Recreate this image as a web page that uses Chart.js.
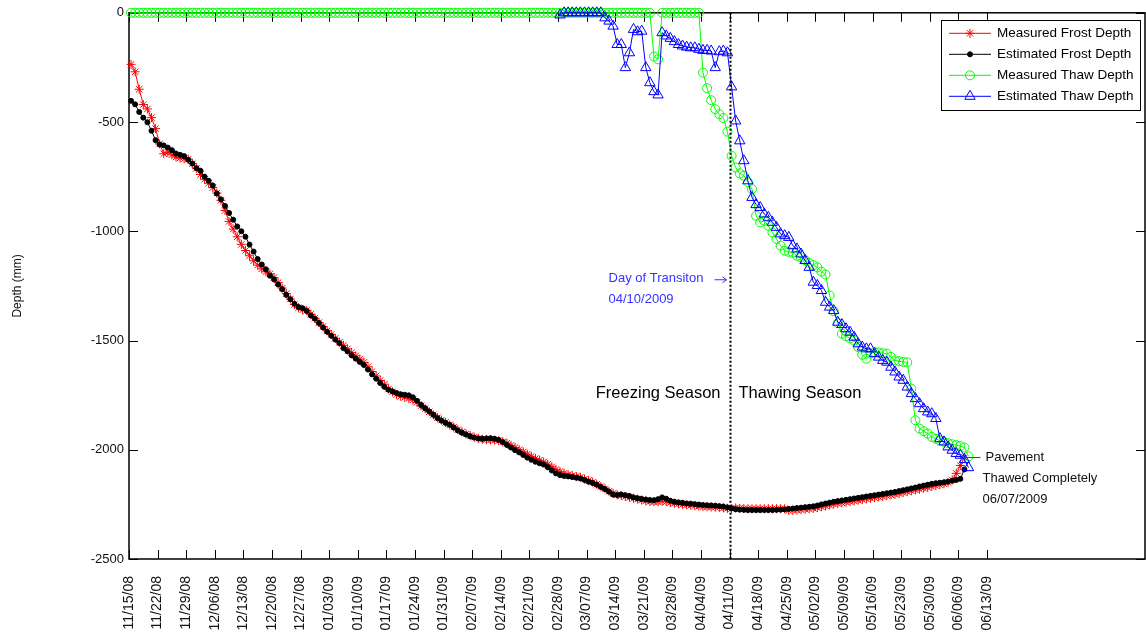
<!DOCTYPE html>
<html>
<head>
<meta charset="utf-8">
<title>Frost and Thaw Depth</title>
<script src="https://cdn.jsdelivr.net/npm/chart.js@4/dist/chart.umd.min.js"></script>
<style>
  html, body { margin: 0; padding: 0; background: #fff; }
  #wrap { width: 1146px; height: 638px; }
</style>
</head>
<body>
<div id="wrap"><canvas id="depthChart" width="1146" height="638"></canvas></div>
<script>
// x values are days counted from 11/15/08, one reading per day
const weekLabels = [
  '11/15/08', '11/22/08', '11/29/08', '12/06/08', '12/13/08', '12/20/08', '12/27/08',
  '01/03/09', '01/10/09', '01/17/09', '01/24/09', '01/31/09', '02/07/09', '02/14/09',
  '02/21/09', '02/28/09', '03/07/09', '03/14/09', '03/21/09', '03/28/09', '04/04/09',
  '04/11/09', '04/18/09', '04/25/09', '05/02/09', '05/09/09', '05/16/09', '05/23/09',
  '05/30/09', '06/06/09', '06/13/09'
];
const depthTicks = [-2500, -2000, -1500, -1000, -500, 0];

const frostStart = 0.5;
const frostMeasured = [
  -236, -270, -350, -420, -440, -480, -530, -600, -645, -638,
  -650, -660, -665, -668, -670, -690, -712, -740, -762, -780,
  -800, -825, -858, -905, -955, -990, -1025, -1060, -1088, -1112,
  -1135, -1155, -1172, -1185, -1195, -1212, -1235, -1260, -1285, -1310,
  -1335, -1350, -1360,
  -1362, -1380, -1398, -1418, -1436, -1455, -1472, -1490, -1508,
  -1522, -1538, -1555, -1570, -1585, -1600, -1620, -1642, -1662, -1683, -1700,
  -1722, -1735, -1748, -1755, -1760, -1765, -1772, -1783,
  -1798, -1812, -1826, -1840, -1853, -1864, -1875, -1886, -1896, -1908,
  -1918, -1927, -1935, -1942, -1948, -1952, -1954, -1955, -1956, -1958, -1964,
  -1970, -1980, -1990, -2000, -2010, -2020, -2030, -2040, -2048, -2056,
  -2066, -2078, -2090, -2100, -2108, -2114, -2118, -2122, -2126,
  -2134, -2140, -2148, -2158, -2168, -2178, -2190, -2200, -2206, -2210,
  -2214, -2218, -2222, -2226,
  -2230, -2234, -2237, -2238, -2238, -2236, -2238, -2242, -2245, -2248,
  -2250, -2252, -2254, -2256, -2258, -2260, -2261, -2262, -2263, -2264,
  -2266, -2268, -2270,
  -2266, -2268, -2269, -2270, -2270, -2270, -2270, -2270, -2270, -2270,
  -2270, -2270, -2270,
  -2278, -2277, -2276, -2274, -2272, -2270, -2268,
  -2265, -2261, -2257, -2253, -2249, -2246, -2243, -2240, -2237, -2234,
  -2231, -2228, -2225, -2222, -2219, -2216, -2213, -2210, -2207, -2204,
  -2200, -2196, -2192, -2188, -2184, -2180, -2176, -2172, -2168, -2164,
  -2160, -2156,
  -2150, -2138, -2108, -2072, -2035
];
const frostEstimated = [
  -403, -419, -454, -480, -501, -540, -583, -603, -607, -617,
  -629, -644, -650, -656, -673, -690, -711, -723, -750, -769,
  -790, -827, -854, -884, -916, -947, -978, -1000, -1025, -1061,
  -1093, -1127, -1152, -1174, -1203, -1220, -1244, -1265, -1291, -1311,
  -1332, -1347, -1352,
  -1365, -1385, -1400, -1420, -1440, -1460, -1478, -1495, -1512,
  -1535, -1550, -1568, -1583, -1598, -1612, -1633, -1655, -1675, -1695, -1712,
  -1725, -1733, -1740, -1746, -1748, -1751, -1760, -1776,
  -1795, -1810, -1825, -1840, -1855, -1867, -1877, -1886, -1898, -1912,
  -1922, -1930, -1938, -1944, -1948, -1950, -1948, -1947, -1950, -1955, -1965,
  -1978, -1990, -2002, -2012, -2024, -2036, -2046, -2055, -2062, -2068,
  -2080, -2095, -2108, -2116, -2120, -2122, -2125, -2128, -2131,
  -2138, -2146, -2152, -2160, -2170, -2180, -2192, -2205, -2207, -2205,
  -2208, -2212, -2218, -2222,
  -2225, -2228, -2230, -2231, -2226, -2218, -2224, -2233, -2238, -2241,
  -2243, -2246, -2247, -2249, -2251, -2253, -2254, -2255, -2256, -2258,
  -2260, -2264, -2268,
  -2272, -2274, -2275, -2276, -2276, -2276, -2276, -2276, -2276, -2276,
  -2275, -2274, -2273, -2271, -2269, -2267, -2265, -2263, -2261, -2259,
  -2255, -2250, -2246, -2242, -2238, -2235, -2232, -2229, -2226, -2223,
  -2220, -2217, -2214, -2211, -2208, -2205, -2202, -2199, -2196, -2193,
  -2189, -2185, -2181, -2177, -2173, -2168, -2164, -2160, -2156, -2153,
  -2151, -2149,
  -2146, -2142, -2138, -2133, -2090
];

const thawStart = 0.5;
const thawMeasured = [
  0, 0, 0, 0, 0, 0, 0, 0, 0, 0, 0, 0, 0, 0, 0, 0, 0, 0, 0, 0,
  0, 0, 0, 0, 0, 0, 0, 0, 0, 0, 0, 0, 0, 0, 0, 0, 0, 0, 0, 0,
  0, 0, 0, 0, 0, 0, 0, 0, 0, 0, 0, 0, 0, 0, 0, 0, 0, 0, 0, 0,
  0, 0, 0, 0, 0, 0, 0, 0, 0, 0, 0, 0, 0, 0, 0, 0, 0, 0, 0, 0,
  0, 0, 0, 0, 0, 0, 0, 0, 0, 0, 0, 0, 0, 0, 0, 0, 0, 0, 0, 0,
  0, 0, 0, 0, 0, 0, 0, 0, 0, 0, 0, 0, 0, 0, 0, 0, 0, 0, 0, 0,
  0, 0, 0, 0, 0, 0, 0, 0,
  -200, -213,
  0, 0, 0, 0, 0, 0, 0, 0, 0, 0,
  -274, -345, -400, -441, -464, -482, -544, -655, -708, -735,
  -746, -775, -807, -929, -959, -952, -975, -1005, -1035, -1066,
  -1089, -1094, -1098, -1112, -1120, -1132, -1145, -1155, -1165, -1185,
  -1198, -1294, -1366, -1420, -1469, -1480, -1490, -1500, -1530, -1565,
  -1583, -1560, -1553, -1555, -1558, -1560, -1575, -1591, -1595, -1598,
  -1600, -1720, -1865, -1903, -1915, -1926, -1941, -1950, -1958, -1964,
  -1970, -1975, -1979, -1983, -1990, -2030
];

const thawEstStart = 105.5;
const thawEstimated = [
  -10, 0, 0, 0, 0, 0, 0, 0, 0, 0, 0,
  -23, -38, -61, -145, -145, -251, -183, -76, -87, -84,
  -251, -320, -361, -376, -91, -106, -117, -132, -145, -152,
  -157, -160, -160, -167, -172, -172, -175, -251, -178, -175,
  -183, -339, -495, -586, -677, -769, -845, -878, -891, -921,
  -936, -959, -982, -1012, -1020, -1028, -1066, -1081, -1104, -1134,
  -1165, -1233, -1248, -1271, -1325, -1347, -1363, -1416, -1427, -1446,
  -1462, -1485, -1515, -1530, -1538, -1538, -1560, -1576, -1591, -1599,
  -1622, -1644, -1667, -1682, -1713, -1743, -1766, -1789, -1812, -1827,
  -1835, -1857, -1949, -1964, -1987, -2002, -2017, -2025, -2045, -2082
];

const transitionDay = 147;
const pavementPoint = { x: 205, y: -2035 };
const transitionLabelDepth = -1215;
const seasonLabelDepth = -1740;

const FONT = "'Liberation Sans', Arial, Helvetica, sans-serif";
Chart.defaults.font.family = FONT;
Chart.defaults.color = '#111';

function toPoints(start, values) {
  return values.map((v, i) => ({ x: start + i, y: v }));
}

// box axes with inward ticks on all four sides
const axesBox = {
  id: 'axesBox',
  beforeDatasetsDraw(chart) {
    const { ctx, chartArea: a, scales: { x, y } } = chart;
    ctx.save();
    ctx.strokeStyle = '#000';
    ctx.lineWidth = 1;
    ctx.beginPath();
    x.ticks.forEach(t => {
      const px = Math.round(x.getPixelForValue(t.value)) + 0.5;
      ctx.moveTo(px, a.bottom); ctx.lineTo(px, a.bottom - 9);
      ctx.moveTo(px, a.top); ctx.lineTo(px, a.top + 9);
    });
    y.ticks.forEach(t => {
      const py = Math.round(y.getPixelForValue(t.value)) + 0.5;
      ctx.moveTo(a.left, py); ctx.lineTo(a.left + 9, py);
      ctx.moveTo(a.right, py); ctx.lineTo(a.right - 9, py);
    });
    ctx.stroke();
    ctx.lineWidth = 1.5;
    ctx.strokeRect(a.left, a.top, a.right - a.left, a.bottom - a.top);
    ctx.restore();
  },
  afterDatasetsDraw(chart) {
    const { ctx, chartArea: a, scales: { x } } = chart;
    const tx = Math.round(x.getPixelForValue(transitionDay)) + 0.5;
    ctx.save();
    ctx.strokeStyle = '#000';
    ctx.lineWidth = 2;
    ctx.setLineDash([2, 2]);
    ctx.beginPath();
    ctx.moveTo(tx, a.top);
    ctx.lineTo(tx, a.bottom);
    ctx.stroke();
    ctx.restore();
  }
};

// text notes: transition day, season names, end of thaw
const notes = {
  id: 'notes',
  afterDraw(chart) {
    const { ctx, scales: { x, y } } = chart;
    const tx = x.getPixelForValue(transitionDay);
    ctx.save();
    ctx.textBaseline = 'middle';

    ctx.fillStyle = '#3333ff';
    ctx.strokeStyle = '#3333ff';
    ctx.font = '13px ' + FONT;
    const ty = y.getPixelForValue(transitionLabelDepth);
    ctx.textAlign = 'left';
    ctx.fillText('Day of Transiton', tx - 121, ty);
    ctx.fillText('04/10/2009', tx - 121, ty + 21);
    // small arrow pointing at the dotted line
    ctx.lineWidth = 1;
    ctx.beginPath();
    ctx.moveTo(tx - 15, ty + 1.5);
    ctx.lineTo(tx - 3, ty + 1.5);
    ctx.moveTo(tx - 7, ty - 1.5);
    ctx.lineTo(tx - 3, ty + 1.5);
    ctx.lineTo(tx - 7, ty + 4.5);
    ctx.stroke();

    ctx.fillStyle = '#000';
    ctx.font = '16.5px ' + FONT;
    const sy = y.getPixelForValue(seasonLabelDepth);
    ctx.textAlign = 'right';
    ctx.fillText('Freezing Season', tx - 9, sy);
    ctx.textAlign = 'left';
    ctx.fillText('Thawing Season', tx + 9, sy);

    const px = x.getPixelForValue(pavementPoint.x);
    const py = y.getPixelForValue(pavementPoint.y);
    ctx.strokeStyle = '#444';
    ctx.lineWidth = 1;
    ctx.beginPath();
    ctx.moveTo(px + 2, Math.round(py) + 0.5);
    ctx.lineTo(px + 14, Math.round(py) + 0.5);
    ctx.stroke();
    ctx.fillStyle = '#111';
    ctx.font = '13px ' + FONT;
    ctx.fillText('Pavement', px + 19, py);
    ctx.fillText('Thawed Completely', px + 16, py + 21);
    ctx.fillText('06/07/2009', px + 16, py + 42);
    ctx.restore();
  }
};

// legend box in the upper right corner of the plot
const boxLegend = {
  id: 'boxLegend',
  afterDraw(chart) {
    const { ctx, chartArea: a } = chart;
    const w = 199, h = 90;
    const bx = a.right - 5 - w, by = a.top + 7;
    ctx.save();
    ctx.fillStyle = '#fff';
    ctx.fillRect(bx, by, w, h);
    ctx.strokeStyle = '#000';
    ctx.lineWidth = 1;
    ctx.strokeRect(Math.round(bx) + 0.5, Math.round(by) + 0.5, w, h);
    chart.data.datasets.forEach((ds, k) => {
      const ry = by + 13.5 + k * 21;
      ctx.strokeStyle = ds.borderColor;
      ctx.lineWidth = 1;
      ctx.beginPath();
      ctx.moveTo(bx + 8, ry);
      ctx.lineTo(bx + 50, ry);
      ctx.stroke();
      ctx.fillStyle = ds.pointBackgroundColor;
      ctx.strokeStyle = ds.pointBorderColor;
      ctx.lineWidth = ds.pointBorderWidth;
      Chart.helpers.drawPoint(ctx, {
        pointStyle: ds.pointStyle, radius: ds.pointRadius,
        borderWidth: ds.pointBorderWidth, rotation: 0
      }, bx + 29, ry);
      ctx.fillStyle = '#000';
      ctx.font = '13.5px ' + FONT;
      ctx.textAlign = 'left';
      ctx.textBaseline = 'middle';
      ctx.fillText(ds.label, bx + 56, ry);
    });
    ctx.restore();
  }
};

new Chart(document.getElementById('depthChart'), {
  type: 'scatter',
  data: {
    datasets: [
      {
        label: 'Measured Frost Depth',
        data: toPoints(frostStart, frostMeasured),
        showLine: true, borderColor: '#ff0000', borderWidth: 1,
        pointStyle: 'star', pointRadius: 4.5, pointBorderWidth: 1,
        pointBorderColor: '#ff0000', pointBackgroundColor: '#ff0000',
        order: 4, clip: false
      },
      {
        label: 'Estimated Frost Depth',
        data: toPoints(frostStart, frostEstimated),
        showLine: true, borderColor: '#000000', borderWidth: 1,
        pointStyle: 'circle', pointRadius: 2.5, pointBorderWidth: 1,
        pointBorderColor: '#000000', pointBackgroundColor: '#000000',
        order: 3, clip: false
      },
      {
        label: 'Measured Thaw Depth',
        data: toPoints(thawStart, thawMeasured),
        showLine: true, borderColor: '#00ff00', borderWidth: 1,
        pointStyle: 'circle', pointRadius: 4.5, pointBorderWidth: 1,
        pointBorderColor: '#00ff00', pointBackgroundColor: 'rgba(0,0,0,0)',
        order: 2, clip: false
      },
      {
        label: 'Estimated Thaw Depth',
        data: toPoints(thawEstStart, thawEstimated),
        showLine: true, borderColor: '#0000ff', borderWidth: 1,
        pointStyle: 'triangle', pointRadius: 6, pointBorderWidth: 1,
        pointBorderColor: '#0000ff', pointBackgroundColor: 'rgba(0,0,0,0)',
        order: 1, clip: false
      }
    ]
  },
  options: {
    responsive: false,
    animation: false,
    events: [],
    layout: { autoPadding: false, padding: { top: 12, right: 1, bottom: 0, left: 0 } },
    plugins: { legend: { display: false }, tooltip: { enabled: false } },
    scales: {
      x: {
        type: 'linear', min: 0, max: 248.7,
        grid: { display: false, drawTicks: false },
        border: { display: false },
        afterBuildTicks: s => { s.ticks = weekLabels.map((_, i) => ({ value: i * 7 })); },
        afterFit: s => { s.height = 79; s.paddingLeft = 0; s.paddingRight = 0; },
        ticks: {
          autoSkip: false, minRotation: 90, maxRotation: 90, padding: 17,
          font: { size: 14 }, color: '#111',
          callback: (v, i) => weekLabels[i]
        }
      },
      y: {
        min: -2500, max: 0,
        grid: { display: false, drawTicks: false },
        border: { display: false },
        afterBuildTicks: s => { s.ticks = depthTicks.map(v => ({ value: v })); },
        afterFit: s => { s.width = 129; },
        ticks: { padding: 5, font: { size: 13 }, color: '#111', callback: v => String(v) },
        title: {
          display: true, text: 'Depth (mm)', color: '#111',
          font: { size: 12 }, padding: { top: 10, bottom: 0 }
        }
      }
    }
  },
  plugins: [axesBox, notes, boxLegend]
});
</script>
</body>
</html>
